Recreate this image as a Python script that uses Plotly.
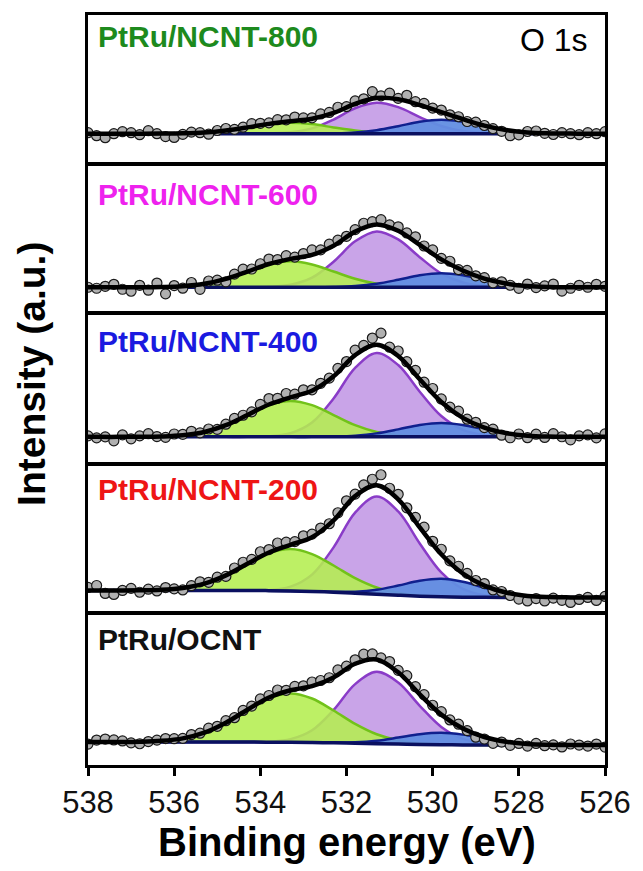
import plotly.graph_objects as go
from plotly.subplots import make_subplots

# ---------------- data ----------------
# binding-energy grid of the fitted components (eV)
X_FIT = [538.0, 537.8, 537.3, 536.8, 536.3, 535.8, 535.3, 534.8, 534.3, 533.8, 533.3, 532.8, 532.3,
         531.8, 531.3, 530.8, 530.3, 529.8, 529.3, 528.8, 528.3, 527.8, 527.3, 526.8, 526.3, 526.0]
# binding-energy grid of the measured points (eV), 0.2 eV step
X_DATA = [round(538.0 - 0.2 * i, 1) for i in range(61)]

SAMPLES = ["PtRu/NCNT-800", "PtRu/NCNT-600", "PtRu/NCNT-400", "PtRu/NCNT-200", "PtRu/OCNT"]

# PtRu/NCNT-800
G_800 = [0, 0, 0, 0, 0.07, 0.34, 1.2, 3.2, 6.3, 9.6, 11, 9.6, 6.3, 3.2, 1.2, 0.34, 0.07, 0, 0, 0, 0, 0, 0, 0, 0, 0]
P_800 = [0, 0, 0, 0, 0, 0, 0, 0, 0, 0.24, 1.4, 5.3, 14.2, 25.5, 31, 26.6, 16.7, 7.7, 2.6, 0.65, 0.12, 0.01, 0, 0, 0, 0]
B_800 = [0, 0, 0, 0, 0, 0, 0, 0, 0, 0, 0, 0, 0.3, 1.2, 3.5, 7.5, 12, 14, 12, 7.5, 3.5, 1.2, 0.3, 0.06, 0, 0]
BG_800 = [0] * 26
D_800 = [1, -2, -4, 0, 2, 1, -1, 3, 0, -2.9, -3.8, -0.7, 1.6, 1, -0.5, 3.2, 5.2, 4.3, 6.6, 10,
         10.4, 10.8, 14, 13.9, 16.7, 15.8, 15.9, 19.8, 21.3, 26.5, 27.1, 32.9, 35, 42.2, 38, 40.7, 35.4, 38.5, 32.1, 30.4,
         25.6, 23.7, 18.9, 17, 12.2, 11.6, 8.2, 5.1, 2.4, -2, -1.1, 2.2, 2.7, 0.4, -0.8, 1.1, 0, -1, 1, 0, 2]

# PtRu/NCNT-600
G_600 = [0, 0, 0, 0.05, 0.3, 1.1, 3.5, 8.5, 15.8, 22.9, 26, 22.9, 15.8, 8.5, 3.5, 1.1, 0.3, 0.05, 0, 0, 0, 0, 0, 0, 0, 0]
P_600 = [0, 0, 0, 0, 0, 0, 0, 0, 0, 0.4, 2.5, 9.6, 25.6, 46.1, 56, 48, 30.2, 13.9, 4.8, 1.2, 0.22, 0.02, 0, 0, 0, 0]
B_600 = [0, 0, 0, 0, 0, 0, 0, 0, 0, 0, 0, 0, 0.3, 1.2, 3.5, 7.5, 12, 14, 12, 7.5, 3.5, 1.2, 0.3, 0.06, 0, 0]
BG_600 = [0] * 26
D_600 = [0, -1, 1, 3, -2, -4, 2, -2.9, 4.2, -6.6, 1.7, -0.9, 4.8, -2.1, 6.3, 7.1, 5.5, 13.2, 18.2, 18.3,
         23.6, 28.3, 27.8, 31.7, 30.2, 33.8, 37.5, 37.5, 43.3, 47.3, 51.1, 57.8, 64.2, 65.8, 67.8, 62.6, 60.6, 54.5, 50.6, 41.4,
         37.5, 29, 26.1, 17.7, 16.9, 11.5, 9.7, 4.4, 5.5, 2.05, -1.1, 3.2, -0.3, 1.4, 3.2, -3.9, -1, 2, 0, 3, 1]

# PtRu/NCNT-400
G_400 = [0, 0, 0, 0.08, 0.4, 1.6, 4.9, 11.7, 21.9, 31.8, 36, 31.8, 21.9, 11.7, 4.9, 1.6, 0.4, 0.08, 0, 0, 0, 0, 0, 0, 0, 0]
P_400 = [0, 0, 0, 0, 0, 0, 0, 0, 0, 0.64, 3.7, 14.4, 38.5, 69.1, 84, 72, 45.3, 20.9, 7.1, 1.8, 0.34, 0.04, 0, 0, 0, 0]
B_400 = [0, 0, 0, 0, 0, 0, 0, 0, 0, 0, 0, 0, 0.3, 1.2, 3.5, 7.5, 12, 14, 12, 7.5, 3.5, 1.2, 0.3, 0.06, 0, 0]
BG_400 = [0] * 26
D_400 = [1, -1, 0, -4, 2, -2, 1, 3.2, 0.3, -0.5, 2.9, 2.6, 5.6, 4, 7.9, 7.5, 12.7, 18.5, 21.7, 25.1,
         32.5, 38.4, 38.7, 43.5, 42.8, 47.2, 47.2, 53.7, 58.9, 68.7, 75.5, 87, 91.7, 99.1, 104, 89.9, 86.1, 75.4, 66.7, 54.8,
         48.5, 38, 29.8, 25.8, 17.7, 14.6, 9.3, 7.7, 1.7, -0.9, 2.9, -0.8, 2.7, -0.6, 3.2, 0.1, -3, 1, 2, -1, 3]

# PtRu/NCNT-200
G_200 = [0, 0, 0.03, 0.16, 0.7, 2.5, 6.8, 15.1, 26.7, 37.5, 42, 37.5, 26.7, 15.1, 6.8, 2.5, 0.7, 0.16, 0.03, 0, 0, 0, 0, 0, 0, 0]
P_200 = [0, 0, 0, 0, 0, 0, 0, 0, 0, 0.74, 4.3, 16.9, 44.9, 80.7, 98, 84, 52.8, 24.4, 8.3, 2.1, 0.4, 0.05, 0, 0, 0, 0]
B_200 = [0, 0, 0, 0, 0, 0, 0, 0, 0, 0, 0, 0, 0.4, 1.5, 4.5, 9.7, 15.4, 18, 15.4, 9.7, 4.5, 1.5, 0.4, 0.07, 0, 0]
BG_200 = [5, 5, 5, 5, 5, 5, 5, 5, 5, 4.8, 4.5, 4.0, 3.3, 2.3, 1.2, 0.2, -0.7, -1.3, -1.7, -1.9, -2, -2, -2, -2, -2, -2]
D_200 = [8, 10, 2, 1, 5, 7.1, 3.2, 6.3, 4.5, 7.9, 6.6, 5.5, 9.8, 13.7, 13.2, 18.3, 19.1, 27.5, 33.3, 36.2,
         43.8, 46, 52.6, 53.4, 54, 59.8, 61.5, 67.6, 71.9, 82.9, 94.9, 101.6, 110.9, 116.5, 121, 107.5, 101.4, 87.9, 78.3, 68.5,
         54.3, 46.3, 34.7, 29.3, 22.1, 15, 11.9, 5.5, 3.95, -0.04, -3.6, -5.5, -3.1, -5.5, -2.7, -4.9, -7, -4, -2, -5, -1]

# PtRu/OCNT
G_OC = [0.01, 0.02, 0.06, 0.3, 1.2, 3.7, 9.4, 19.4, 32.4, 44.2, 49, 44.2, 32.4, 19.4, 9.4, 3.7, 1.2, 0.3, 0.06, 0.02, 0, 0, 0, 0, 0, 0]
P_OC = [0, 0, 0, 0, 0, 0, 0, 0, 0, 0.55, 3.2, 12.4, 33, 59.3, 72, 61.7, 38.8, 17.9, 6.1, 1.5, 0.3, 0.03, 0, 0, 0, 0]
B_OC = [0, 0, 0, 0, 0, 0, 0, 0, 0, 0, 0, 0, 0.25, 1.0, 3.0, 6.5, 10.3, 12, 10.3, 6.5, 3.0, 1.0, 0.25, 0.05, 0, 0]
BG_OC = [2, 2, 2, 2, 2, 2, 2, 2, 2, 1.9, 1.75, 1.5, 1.2, 0.8, 0.4, 0, -0.4, -0.7, -0.85, -0.95, -1, -1, -1, -1, -1, -1]
D_OC = [0, 4, 5, 4.1, 3.1, 1.2, 0.3, 2.5, 3.9, 5.5, 5.4, 5.7, 9.5, 10.9, 16, 17.8, 23.4, 26.4, 33.7, 38.1,
        45.2, 48.7, 54.2, 53.9, 57.8, 58.4, 62.2, 63.7, 66.5, 74.3, 78.1, 84.5, 90.1, 90.4, 86.4, 82.7, 73.9, 68.6, 57.5, 49.5,
        38.9, 32.5, 24.2, 19.9, 13.5, 6.85, 5, 0.7, 2, -1.3, 0.6, -2, 0.6, -1.66, -0.8, -2.9, 0.05, -1, -2, 0, -3]

GREENS = [G_800, G_600, G_400, G_200, G_OC]
PURPLES = [P_800, P_600, P_400, P_200, P_OC]
BLUES = [B_800, B_600, B_400, B_200, B_OC]
BACKGROUNDS = [BG_800, BG_600, BG_400, BG_200, BG_OC]
MEASURED = [D_800, D_600, D_400, D_200, D_OC]

X_TICKS = [538, 536, 534, 532, 530, 528, 526]

# ---------------- style ----------------
FONT = "Liberation Sans, Arial, sans-serif"
LABEL_COLORS = ["#1d8a1d", "#ee22ee", "#1a1ae0", "#ee1515", "#111111"]
Y_RANGES = [[-29, 119], [-25, 123], [-26, 123], [-17, 131], [-21, 130]]
PANEL_PX = [(13, 161), (163, 311), (313, 462), (464, 612), (614, 765)]
LABEL_Y_PX = [35, 193, 340, 489, 639]
W, H = 643, 871
L, R, T, B = 88, 30, 13, 106
PH = H - T - B  # plotting height in px


def py(px):
    return (H - B - px) / PH


def pxx(px):
    return (px - L) / (W - L - R)


fig = make_subplots(rows=5, cols=1, shared_xaxes=True, vertical_spacing=0.002)

for i in range(5):
    r = i + 1
    bg = BACKGROUNDS[i]
    comps = [
        (PURPLES[i], "rgb(201,164,232)", "#8a3cc8"),
        (GREENS[i], "rgba(180,238,80,0.88)", "#72c21a"),
        (BLUES[i], "rgba(98,142,226,0.95)", "#10208e"),
    ]
    for comp, fillc, linec in comps:
        fig.add_trace(go.Scatter(x=X_FIT, y=bg, mode="lines", line=dict(width=0, shape="spline"),
                                 showlegend=False, hoverinfo="skip"), row=r, col=1)
        fig.add_trace(go.Scatter(x=X_FIT, y=[b + c for b, c in zip(bg, comp)], mode="lines",
                                 line=dict(color=linec, width=2.5, shape="spline"), fill="tonexty",
                                 fillcolor=fillc, showlegend=False, hoverinfo="skip"), row=r, col=1)
    fig.add_trace(go.Scatter(x=X_FIT, y=bg, mode="lines", line=dict(color="#0a1060", width=3.5, shape="spline"),
                             showlegend=False), row=r, col=1)
    fig.add_trace(go.Scatter(x=X_DATA, y=MEASURED[i], mode="markers",
                             marker=dict(size=10, color="#b0b0b0", line=dict(color="#1a1a1a", width=1.2)),
                             showlegend=False), row=r, col=1)
    env = [b + g + p + bl for b, g, p, bl in zip(bg, GREENS[i], PURPLES[i], BLUES[i])]
    fig.add_trace(go.Scatter(x=X_FIT, y=env, mode="lines", line=dict(color="black", width=4.5, shape="spline"),
                             showlegend=False), row=r, col=1)

    top, bot = PANEL_PX[i]
    yname = "yaxis" if r == 1 else f"yaxis{r}"
    xname = "xaxis" if r == 1 else f"xaxis{r}"
    fig.layout[yname].update(domain=[py(bot), py(top)], range=Y_RANGES[i], showline=True, mirror=True,
                             linecolor="black", linewidth=2.5, showticklabels=False, ticks="",
                             showgrid=False, zeroline=False, fixedrange=True)
    fig.layout[xname].update(range=[538, 526], showline=True, mirror=True, linecolor="black", linewidth=2.5,
                             showgrid=False, zeroline=False, tickvals=X_TICKS,
                             ticks="outside" if r == 5 else "", ticklen=8, tickwidth=2.5, tickcolor="black",
                             showticklabels=(r == 5), tickfont=dict(family=FONT, size=31, color="#111111"))

    fig.add_annotation(x=pxx(96), y=py(LABEL_Y_PX[i]), xref="paper", yref="paper", text=f"<b>{SAMPLES[i]}</b>",
                       showarrow=False, xanchor="left", yanchor="middle",
                       font=dict(family=FONT, size=30, color=LABEL_COLORS[i]))

fig.add_annotation(x=pxx(598), y=py(38), xref="paper", yref="paper", text="O 1s", showarrow=False,
                   xanchor="right", yanchor="middle", font=dict(family=FONT, size=32, color="black"))
fig.add_annotation(x=0.5, y=py(842), xref="paper", yref="paper", text="<b>Binding energy (eV)</b>",
                   showarrow=False, xanchor="center", yanchor="middle", font=dict(family=FONT, size=40, color="black"))
fig.add_annotation(x=pxx(30), y=py(373), xref="paper", yref="paper", text="<b>Intensity (a.u.)</b>",
                   showarrow=False, textangle=-90, xanchor="center", yanchor="middle",
                   font=dict(family=FONT, size=39, color="black"))

fig.update_layout(width=W, height=H, margin=dict(l=L, r=R, t=T, b=B), paper_bgcolor="white",
                  plot_bgcolor="white", showlegend=False)

fig.write_html("out.html")
